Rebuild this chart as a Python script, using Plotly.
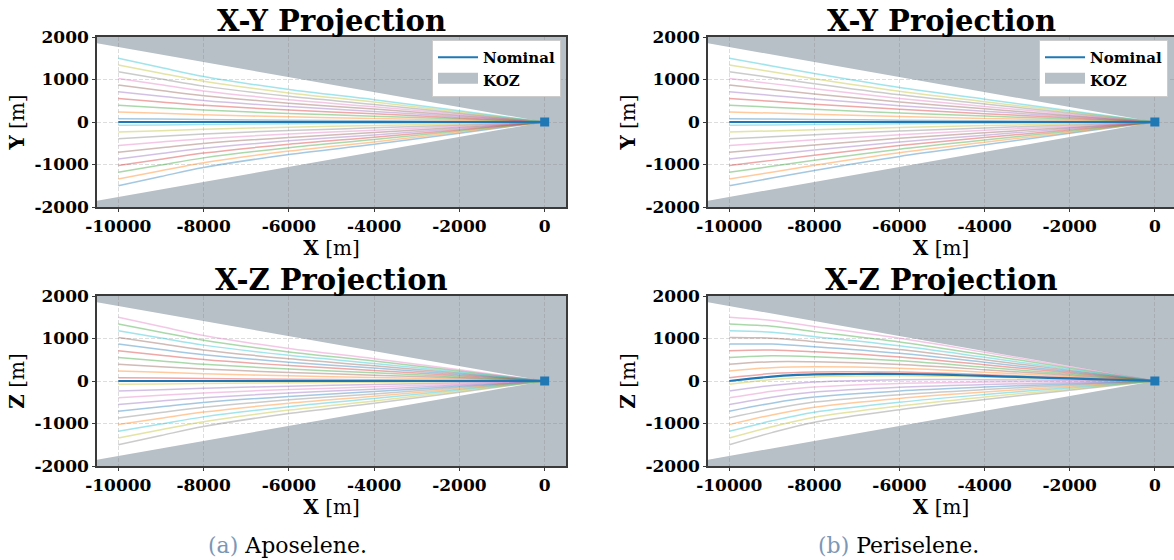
import math
import plotly.graph_objects as go

# ---------------------------------------------------------------------------
# Data
# ---------------------------------------------------------------------------
# Along-track sample positions shared by every dispersed trajectory [m]
X_SAMPLES = [-10000, -9000, -8000, -6000, -4000, -2000, 0]

# Dispersed trajectories, one row per trajectory (row k uses colour k % 10)
XY_APOSELENE = [
    [-1500, -1283, -1070, -765, -525, -263, 0],
    [-1342, -1147, -957, -684, -470, -235, 0],
    [-1184, -1012, -844, -604, -414, -207, 0],
    [-1026, -877, -732, -523, -359, -180, 0],
    [-868, -742, -619, -443, -304, -152, 0],
    [-711, -608, -507, -363, -249, -124, 0],
    [-553, -473, -394, -282, -194, -97, 0],
    [-395, -338, -282, -201, -138, -69, 0],
    [-237, -203, -169, -121, -83, -41, 0],
    [-79, -68, -56, -40, -28, -14, 0],
    [79, 68, 56, 40, 28, 14, 0],
    [237, 203, 169, 121, 83, 41, 0],
    [395, 338, 282, 201, 138, 69, 0],
    [553, 473, 394, 282, 194, 97, 0],
    [711, 608, 507, 363, 249, 124, 0],
    [868, 742, 619, 443, 304, 152, 0],
    [1026, 877, 732, 523, 359, 180, 0],
    [1184, 1012, 844, 604, 414, 207, 0],
    [1342, 1147, 957, 684, 470, 235, 0],
    [1500, 1283, 1070, 765, 525, 263, 0],
]

XZ_APOSELENE = [
    [868, 742, 619, 443, 304, 152, 0],
    [237, 203, 169, 121, 83, 41, 0],
    [1342, 1147, 957, 684, 470, 235, 0],
    [711, 608, 507, 363, 249, 124, 0],
    [-237, -203, -169, -121, -83, -41, 0],
    [1026, 877, 732, 523, 359, 180, 0],
    [1500, 1283, 1070, 765, 525, 263, 0],
    [-868, -742, -619, -443, -304, -152, 0],
    [-79, -68, -56, -40, -28, -14, 0],
    [1184, 1012, 844, 604, 414, 207, 0],
    [-711, -608, -507, -363, -249, -124, 0],
    [-1026, -877, -732, -523, -359, -180, 0],
    [553, 473, 394, 282, 194, 97, 0],
    [79, 68, 56, 40, 28, 14, 0],
    [-553, -473, -394, -282, -194, -97, 0],
    [395, 338, 282, 201, 138, 69, 0],
    [-395, -338, -282, -201, -138, -69, 0],
    [-1500, -1283, -1070, -765, -525, -263, 0],
    [-1342, -1147, -957, -684, -470, -235, 0],
    [-1184, -1012, -844, -604, -414, -207, 0],
]

XY_PERISELENE = [
    [-1500, -1320, -1140, -810, -536, -267, 0],
    [-1342, -1181, -1020, -725, -479, -239, 0],
    [-1184, -1042, -900, -639, -423, -211, 0],
    [-1026, -903, -780, -554, -366, -183, 0],
    [-868, -764, -660, -469, -310, -155, 0],
    [-711, -626, -540, -384, -254, -127, 0],
    [-553, -487, -420, -299, -197, -98, 0],
    [-395, -348, -300, -213, -141, -70, 0],
    [-237, -209, -180, -128, -85, -42, 0],
    [-79, -70, -60, -43, -28, -14, 0],
    [79, 70, 60, 43, 28, 14, 0],
    [237, 209, 180, 128, 85, 42, 0],
    [395, 348, 300, 213, 141, 70, 0],
    [553, 487, 420, 299, 197, 98, 0],
    [711, 626, 540, 384, 254, 127, 0],
    [868, 764, 660, 469, 310, 155, 0],
    [1026, 903, 780, 554, 366, 183, 0],
    [1184, 1042, 900, 639, 423, 211, 0],
    [1342, 1181, 1020, 725, 479, 239, 0],
    [1500, 1320, 1140, 810, 536, 267, 0],
]

XZ_PERISELENE = [
    [868, 869, 806, 651, 441, 221, 0],
    [237, 314, 333, 298, 208, 104, 0],
    [1342, 1286, 1162, 917, 617, 308, 0],
    [711, 731, 688, 563, 383, 192, 0],
    [-237, -104, -23, 32, 32, 16, 0],
    [1026, 1008, 925, 740, 500, 250, 0],
    [1500, 1425, 1280, 1005, 675, 338, 0],
    [-868, -659, -496, -321, -201, -101, 0],
    [-79, 36, 96, 121, 91, 45, 0],
    [1184, 1147, 1043, 828, 558, 279, 0],
    [-711, -521, -378, -233, -143, -72, 0],
    [-1026, -798, -615, -410, -260, -130, 0],
    [553, 592, 570, 475, 325, 162, 0],
    [79, 175, 214, 209, 149, 75, 0],
    [-553, -382, -260, -145, -85, -42, 0],
    [395, 453, 451, 386, 266, 133, 0],
    [-395, -243, -141, -56, -26, -13, 0],
    [-1500, -1215, -970, -675, -435, -218, 0],
    [-1342, -1076, -852, -587, -377, -188, 0],
    [-1184, -937, -733, -498, -318, -159, 0],
]

# Nominal trajectories
NOMINAL_X_STRAIGHT = [-10000, 0]
NOMINAL_STRAIGHT = [0, 0]
NOMINAL_X_PERI_XZ = [-10000, -9500, -9000, -8500, -8000, -7000, -6000,
                     -5000, -4000, -3000, -2000, -1000, 0]
NOMINAL_PERI_XZ = [0, 55, 105, 140, 155, 165, 165, 150, 120, 90, 60, 30, 0]

# Target point
TARGET_X = [0]
TARGET_Y = [0]

# Keep-out zone: cone half-angle [deg]
KOZ_HALF_ANGLE_DEG = 10.0

# Ticks
X_TICKS = [-10000, -8000, -6000, -4000, -2000, 0]
X_TICK_TEXT = ["-10000", "-8000", "-6000", "-4000", "-2000", "0"]
Y_TICKS = [-2000, -1000, 0, 1000, 2000]
Y_TICK_TEXT = ["-2000", "-1000", "0", "1000", "2000"]

TITLES = ["X-Y Projection", "X-Y Projection", "X-Z Projection", "X-Z Projection"]
Y_LABELS = ["<b>Y</b> [m]", "<b>Y</b> [m]", "<b>Z</b> [m]", "<b>Z</b> [m]"]
CAPTIONS = [("(a)", "Aposelene."), ("(b)", "Periselene.")]

# ---------------------------------------------------------------------------
# Styling
# ---------------------------------------------------------------------------
W, H = 1174, 560
TAB10 = ["#1f77b4", "#ff7f0e", "#2ca02c", "#d62728", "#9467bd",
         "#8c564b", "#e377c2", "#7f7f7f", "#bcbd22", "#17becf"]
NOMINAL_COLOR = "#1f77b4"
KOZ_COLOR = "rgb(183,191,199)"
SERIF = "DejaVu Serif"
SPINE = "#3a3a3a"

# Pixel layout of the four panels: (left, right, top, bottom)
PANELS_PX = [
    (97, 566, 37, 207),
    (708, 1174, 37, 207),
    (97, 566, 296, 466),
    (708, 1174, 296, 466),
]
X_RANGES = [[-10500, 500], [-10500, 450], [-10500, 500], [-10500, 450]]
Y_RANGE = [-2000, 2000]

fig = go.Figure()

tables = [XY_APOSELENE, XY_PERISELENE, XZ_APOSELENE, XZ_PERISELENE]
nominals = [
    (NOMINAL_X_STRAIGHT, NOMINAL_STRAIGHT),
    (NOMINAL_X_STRAIGHT, NOMINAL_STRAIGHT),
    (NOMINAL_X_STRAIGHT, NOMINAL_STRAIGHT),
    (NOMINAL_X_PERI_XZ, NOMINAL_PERI_XZ),
]
legend_names = ["legend", "legend2", None, None]

tan_half = math.tan(math.radians(KOZ_HALF_ANGLE_DEG))

for i, table in enumerate(tables):
    xa = "x" if i == 0 else f"x{i + 1}"
    ya = "y" if i == 0 else f"y{i + 1}"

    # dispersed trajectories
    for k, row in enumerate(table):
        fig.add_trace(go.Scatter(
            x=X_SAMPLES, y=row, xaxis=xa, yaxis=ya, mode="lines",
            line=dict(color=TAB10[k % 10], width=1.5, shape="spline", smoothing=0.9),
            opacity=0.4, showlegend=False, hoverinfo="skip"))

    # nominal trajectory
    nx, ny = nominals[i]
    lg = legend_names[i]
    fig.add_trace(go.Scatter(
        x=nx, y=ny, xaxis=xa, yaxis=ya, mode="lines", name="Nominal",
        line=dict(color=NOMINAL_COLOR, width=2.2, shape="spline", smoothing=0.6),
        showlegend=lg is not None, legend=lg or "legend", hoverinfo="skip"))

    # legend entry for the keep-out zone (a thick patch)
    if lg is not None:
        fig.add_trace(go.Scatter(
            x=[None], y=[None], xaxis=xa, yaxis=ya, mode="lines", name="KOZ",
            line=dict(color=KOZ_COLOR, width=10),
            fill="toself", fillcolor=KOZ_COLOR, showlegend=True, legend=lg))

    # target
    fig.add_trace(go.Scatter(
        x=TARGET_X, y=TARGET_Y, xaxis=xa, yaxis=ya, mode="markers",
        marker=dict(symbol="square", size=9, color=NOMINAL_COLOR),
        showlegend=False, hoverinfo="skip"))

    # keep-out zone: everything outside the approach cone
    x0, x1 = X_RANGES[i]
    y_edge = -x0 * tan_half
    ytop, ybot = Y_RANGE[1], Y_RANGE[0]
    fig.add_shape(type="path", xref=xa, yref=ya, layer="below",
                  path=f"M {x0},{y_edge} L 0,0 L {x1},0 L {x1},{ytop} L {x0},{ytop} Z",
                  fillcolor=KOZ_COLOR, line=dict(width=0))
    fig.add_shape(type="path", xref=xa, yref=ya, layer="below",
                  path=f"M {x0},{-y_edge} L 0,0 L {x1},0 L {x1},{ybot} L {x0},{ybot} Z",
                  fillcolor=KOZ_COLOR, line=dict(width=0))

    # axes
    l, r, t, b = PANELS_PX[i]
    axis_common = dict(
        showgrid=True, gridcolor="rgba(120,120,120,0.25)", griddash="4px,2px", gridwidth=1,
        zeroline=False, showline=True, linecolor=SPINE, linewidth=1.5, mirror=True,
        ticks="outside", ticklen=3, tickcolor=SPINE, automargin=False,
        tickfont=dict(family=SERIF, size=17, color="black", weight="bold"),
    )
    xkey = "xaxis" if i == 0 else f"xaxis{i + 1}"
    ykey = "yaxis" if i == 0 else f"yaxis{i + 1}"
    fig.layout[xkey] = dict(
        axis_common, domain=[l / W, min(r / W, 1.0)], anchor=ya, range=X_RANGES[i],
        tickvals=X_TICKS, ticktext=X_TICK_TEXT,
        title=dict(text="<b>X</b> [m]", font=dict(family=SERIF, size=20, color="black"),
                   standoff=0))
    fig.layout[ykey] = dict(
        axis_common, domain=[1 - b / H, 1 - t / H], anchor=xa, range=Y_RANGE,
        tickvals=Y_TICKS, ticktext=Y_TICK_TEXT,
        title=dict(text=Y_LABELS[i], font=dict(family=SERIF, size=20, color="black"),
                   standoff=4))

    # panel title
    fig.add_annotation(
        text=f"<b>{TITLES[i]}</b>", xref="paper", yref="paper",
        x=(l + r) / 2 / W, y=1 - (t + 3) / H, xanchor="center", yanchor="bottom",
        showarrow=False, font=dict(family=SERIF, size=29, color="black"))

# sub-figure captions
for (tag, label), cx in zip(CAPTIONS, [287, 898]):
    fig.add_annotation(
        text=f"<span style='color:#7c97b5'>{tag}</span> {label}",
        xref="paper", yref="paper", x=cx / W, y=1 - 545 / H,
        xanchor="center", yanchor="middle", showarrow=False,
        font=dict(family=SERIF, size=22, color="black"))

legend_style = dict(
    bgcolor="white", bordercolor="#cccccc", borderwidth=1,
    font=dict(family=SERIF, size=15, color="black", weight="bold"),
    xanchor="right", yanchor="top", itemwidth=40, tracegroupgap=0,
)
fig.update_layout(
    width=W, height=H, autosize=False,
    margin=dict(l=0, r=0, t=0, b=0),
    paper_bgcolor="white", plot_bgcolor="white",
    legend=dict(legend_style, x=561 / W, y=1 - 40 / H),
    legend2=dict(legend_style, x=1168 / W, y=1 - 40 / H),
)

fig.write_html("out.html", post_script="document.body.style.margin='0';")
